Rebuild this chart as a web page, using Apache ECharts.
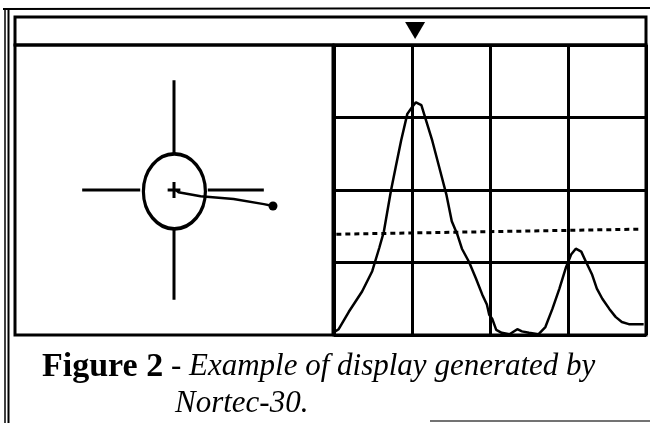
<!DOCTYPE html>
<html>
<head>
<meta charset="utf-8">
<script src="https://cdn.jsdelivr.net/npm/echarts@6/dist/echarts.min.js"></script>
<style>
  html, body { margin: 0; padding: 0; background: #fff; }
  #main { width: 650px; height: 423px; }
</style>
</head>
<body>
<div id="main"></div>
<script>
// signal trace on the right screen (x in divisions, y in divisions)
var signalX = [0.00, 0.06, 0.19, 0.36, 0.49, 0.58, 0.64, 0.73, 0.79, 0.86, 0.94, 1.00, 1.05, 1.12, 1.18,
  1.26, 1.35, 1.44, 1.51, 1.58, 1.64, 1.73, 1.82, 1.90, 1.96, 1.99, 2.03, 2.08, 2.15, 2.25, 2.35,
  2.41, 2.50, 2.62, 2.71, 2.80, 2.89, 2.97, 3.04, 3.10, 3.17, 3.23, 3.31, 3.37, 3.44, 3.53, 3.61,
  3.69, 3.78, 3.86, 3.97];
var signalY = [0.04, 0.08, 0.32, 0.60, 0.88, 1.20, 1.43, 1.99, 2.31, 2.68, 3.05, 3.14, 3.21, 3.17, 2.96,
  2.68, 2.31, 1.94, 1.57, 1.39, 1.19, 1.01, 0.78, 0.56, 0.42, 0.28, 0.22, 0.07, 0.03, 0.01, 0.08,
  0.05, 0.03, 0.01, 0.11, 0.36, 0.64, 0.92, 1.11, 1.19, 1.15, 1.01, 0.83, 0.64, 0.50, 0.36, 0.25,
  0.18, 0.15, 0.15, 0.15];
// dotted alarm threshold
var thresholdX = [0.03, 3.93];
var thresholdY = [1.39, 1.46];
// cursor marker above the screen
var cursorX = 1.04;

// impedance plane (left screen), center at 0,0
var crossSegments = [
  [[0, 1.0], [0, 3.03]],
  [[0, -1.03], [0, -3.03]],
  [[-2.31, 0], [-0.85, 0]],
  [[0.85, 0], [2.26, 0]],
  [[-0.16, 0], [0.16, 0]],
  [[0, -0.22], [0, 0.22]]
];
var flawX = [0.05, 0.11, 0.67, 1.5, 2.26, 2.49];
var flawY = [0.0, -0.06, -0.17, -0.25, -0.39, -0.44];

function pairs(xs, ys) {
  return xs.map(function (x, i) { return [x, ys[i]]; });
}

var chart = echarts.init(document.getElementById('main'));

var gridLine = { show: true, lineStyle: { color: '#000', width: 3 } };
var hiddenAxis = function (idx, min, max) {
  return { type: 'value', gridIndex: idx, min: min, max: max, show: false };
};

var series = [];
crossSegments.forEach(function (seg) {
  series.push({
    type: 'line', xAxisIndex: 0, yAxisIndex: 0, data: seg, symbol: 'none',
    lineStyle: { color: '#000', width: 3 }, silent: true
  });
});
series.push({
  type: 'scatter', xAxisIndex: 0, yAxisIndex: 0, data: [[0.01, -0.04]],
  symbol: 'circle', symbolSize: [62, 75],
  itemStyle: { color: 'rgba(255,255,255,0)', borderColor: '#000', borderWidth: 3.5, opacity: 1 }
});
series.push({
  type: 'line', xAxisIndex: 0, yAxisIndex: 0, data: pairs(flawX, flawY), symbol: 'none',
  lineStyle: { color: '#000', width: 2.5 }
});
series.push({
  type: 'scatter', xAxisIndex: 0, yAxisIndex: 0,
  data: [[flawX[flawX.length - 1], flawY[flawY.length - 1]]],
  symbolSize: 9, itemStyle: { color: '#000', opacity: 1 }
});
series.push({
  type: 'line', xAxisIndex: 1, yAxisIndex: 1, data: pairs(signalX, signalY), symbol: 'none',
  lineStyle: { color: '#000', width: 2.5 }
});
series.push({
  type: 'line', xAxisIndex: 1, yAxisIndex: 1, data: pairs(thresholdX, thresholdY), symbol: 'none',
  lineStyle: { color: '#000', width: 3, type: [5, 4] }
});
series.push({
  type: 'scatter', xAxisIndex: 2, yAxisIndex: 2, data: [[cursorX, 0]],
  symbol: 'triangle', symbolRotate: 180, symbolSize: [20, 17],
  itemStyle: { color: '#000', opacity: 1 }
});

chart.setOption({
  animation: false,
  backgroundColor: '#fff',
  grid: [
    { left: 15, top: 45, width: 318, height: 290, show: true, borderColor: '#000', borderWidth: 3 },
    { left: 334, top: 45, width: 312, height: 290, show: true, borderColor: '#000', borderWidth: 3 },
    { left: 334, top: 17, width: 312, height: 27 }
  ],
  xAxis: [
    hiddenAxis(0, -4, 4),
    { type: 'value', gridIndex: 1, min: 0, max: 4, interval: 1,
      axisLine: { show: false }, axisTick: { show: false }, axisLabel: { show: false },
      splitLine: gridLine },
    hiddenAxis(2, 0, 4)
  ],
  yAxis: [
    hiddenAxis(0, -4, 4),
    { type: 'value', gridIndex: 1, min: 0, max: 4, interval: 1,
      axisLine: { show: false }, axisTick: { show: false }, axisLabel: { show: false },
      splitLine: gridLine },
    hiddenAxis(2, -1, 1)
  ],
  series: series,
  graphic: [
    // outer frame of the figure
    { type: 'line', shape: { x1: 3, y1: 9, x2: 650, y2: 8 }, style: { stroke: '#000', lineWidth: 2 } },
    { type: 'line', shape: { x1: 5, y1: 9, x2: 5, y2: 423 }, style: { stroke: '#000', lineWidth: 1.5 } },
    { type: 'line', shape: { x1: 8.5, y1: 9, x2: 8.5, y2: 423 }, style: { stroke: '#000', lineWidth: 2 } },
    { type: 'line', shape: { x1: 430, y1: 421, x2: 650, y2: 421 }, style: { stroke: '#444', lineWidth: 1.5 } },
    // cursor strip
    { type: 'rect', shape: { x: 15, y: 17, width: 631, height: 28 },
      style: { fill: 'none', stroke: '#000', lineWidth: 3 } },
    // caption
    { type: 'text', left: 42, top: 350,
      style: {
        text: '{b|Figure 2}{i| - Example of display generated by}',
        rich: {
          b: { fontFamily: 'Liberation Serif', fontWeight: 'bold', fontSize: 34, fill: '#000' },
          i: { fontFamily: 'Liberation Serif', fontStyle: 'italic', fontSize: 31, fill: '#000' }
        }
      } },
    { type: 'text', left: 175, top: 388,
      style: { text: 'Nortec-30.', fontFamily: 'Liberation Serif', fontStyle: 'italic', fontSize: 31, fill: '#000' } }
  ]
});
</script>
</body>
</html>
